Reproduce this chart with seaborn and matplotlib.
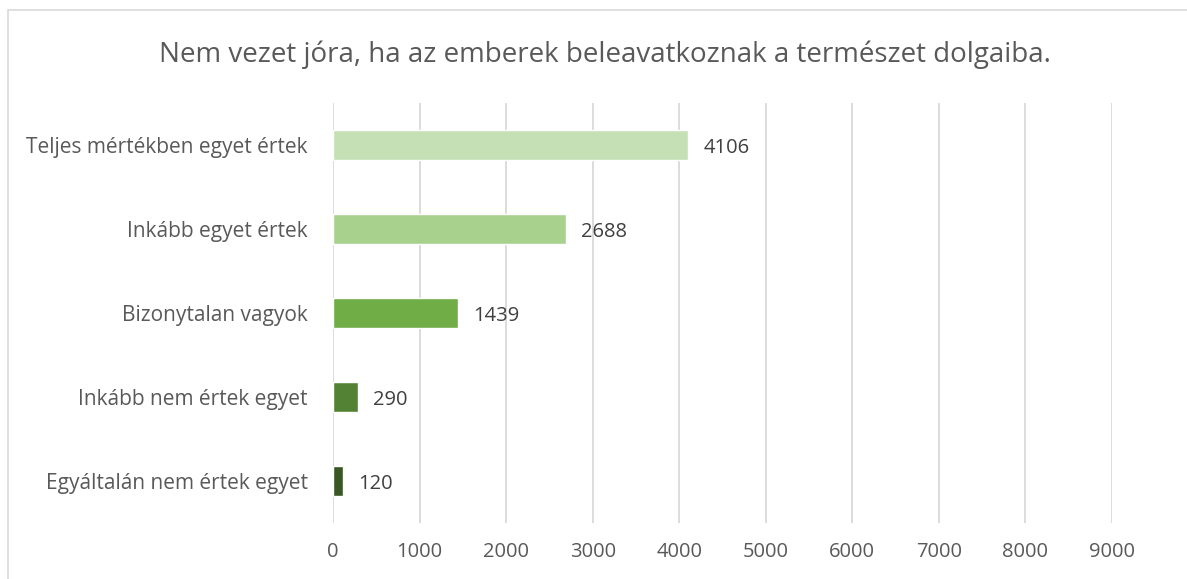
import matplotlib
matplotlib.use("Agg")
import matplotlib.pyplot as plt
import seaborn as sns
import pandas as pd
from matplotlib.patches import Rectangle

categories = ["Teljes mértékben egyet értek", "Inkább egyet értek", "Bizonytalan vagyok",
              "Inkább nem értek egyet", "Egyáltalán nem értek egyet"]
values = [4106, 2688, 1439, 290, 120]
colors = ["#C5E0B4", "#A9D18E", "#70AD47", "#548235", "#385723"]
xticks = [0, 1000, 2000, 3000, 4000, 5000, 6000, 7000, 8000, 9000]
title = "Nem vezet jóra, ha az emberek beleavatkoznak a természet dolgaiba."

sns.set_theme(style="white")
plt.rcParams['font.family'] = ['Open Sans', 'DejaVu Sans']

df = pd.DataFrame({"cat": categories, "val": values})

fig = plt.figure(figsize=(11.87, 5.79), dpi=100)
ax = fig.add_axes([0.2805, 0.0967, 0.9368 - 0.2805, 0.822 - 0.0967])

sns.barplot(data=df, x="val", y="cat", hue="cat", palette=colors, order=categories,
            hue_order=categories, width=0.36, legend=False, ax=ax, saturation=1)

ax.set_xlim(0, 9000)
ax.set_ylim(4.5, -0.5)
ax.set_xticks(xticks)
ax.set_xticklabels([str(t) for t in xticks], fontsize=14.5, color="#595959")
ax.tick_params(axis="y", labelsize=15, labelcolor="#595959", length=0, pad=18)
ax.tick_params(axis="x", length=0, pad=14)
ax.set_xlabel("")
ax.set_ylabel("")
ax.grid(axis="x", color="#D9D9D9", linewidth=1.3)
ax.set_axisbelow(True)
for s in ax.spines.values():
    s.set_visible(False)

for c in ax.containers:
    for t in ax.bar_label(c, fmt="%d", padding=11, fontsize=14.5, color="#404040"):
        t.set_va("center_baseline")

fig.text(0.51, 0.905, title, ha="center", va="center", fontsize=20, color="#595959")

fig.patches.append(Rectangle((8 / 1187, -0.1), 1.2, 1 - 10 / 579 + 0.1, transform=fig.transFigure,
                             fill=False, edgecolor="#D9D9D9", linewidth=1.2))

fig.savefig("out.png", dpi=100)
